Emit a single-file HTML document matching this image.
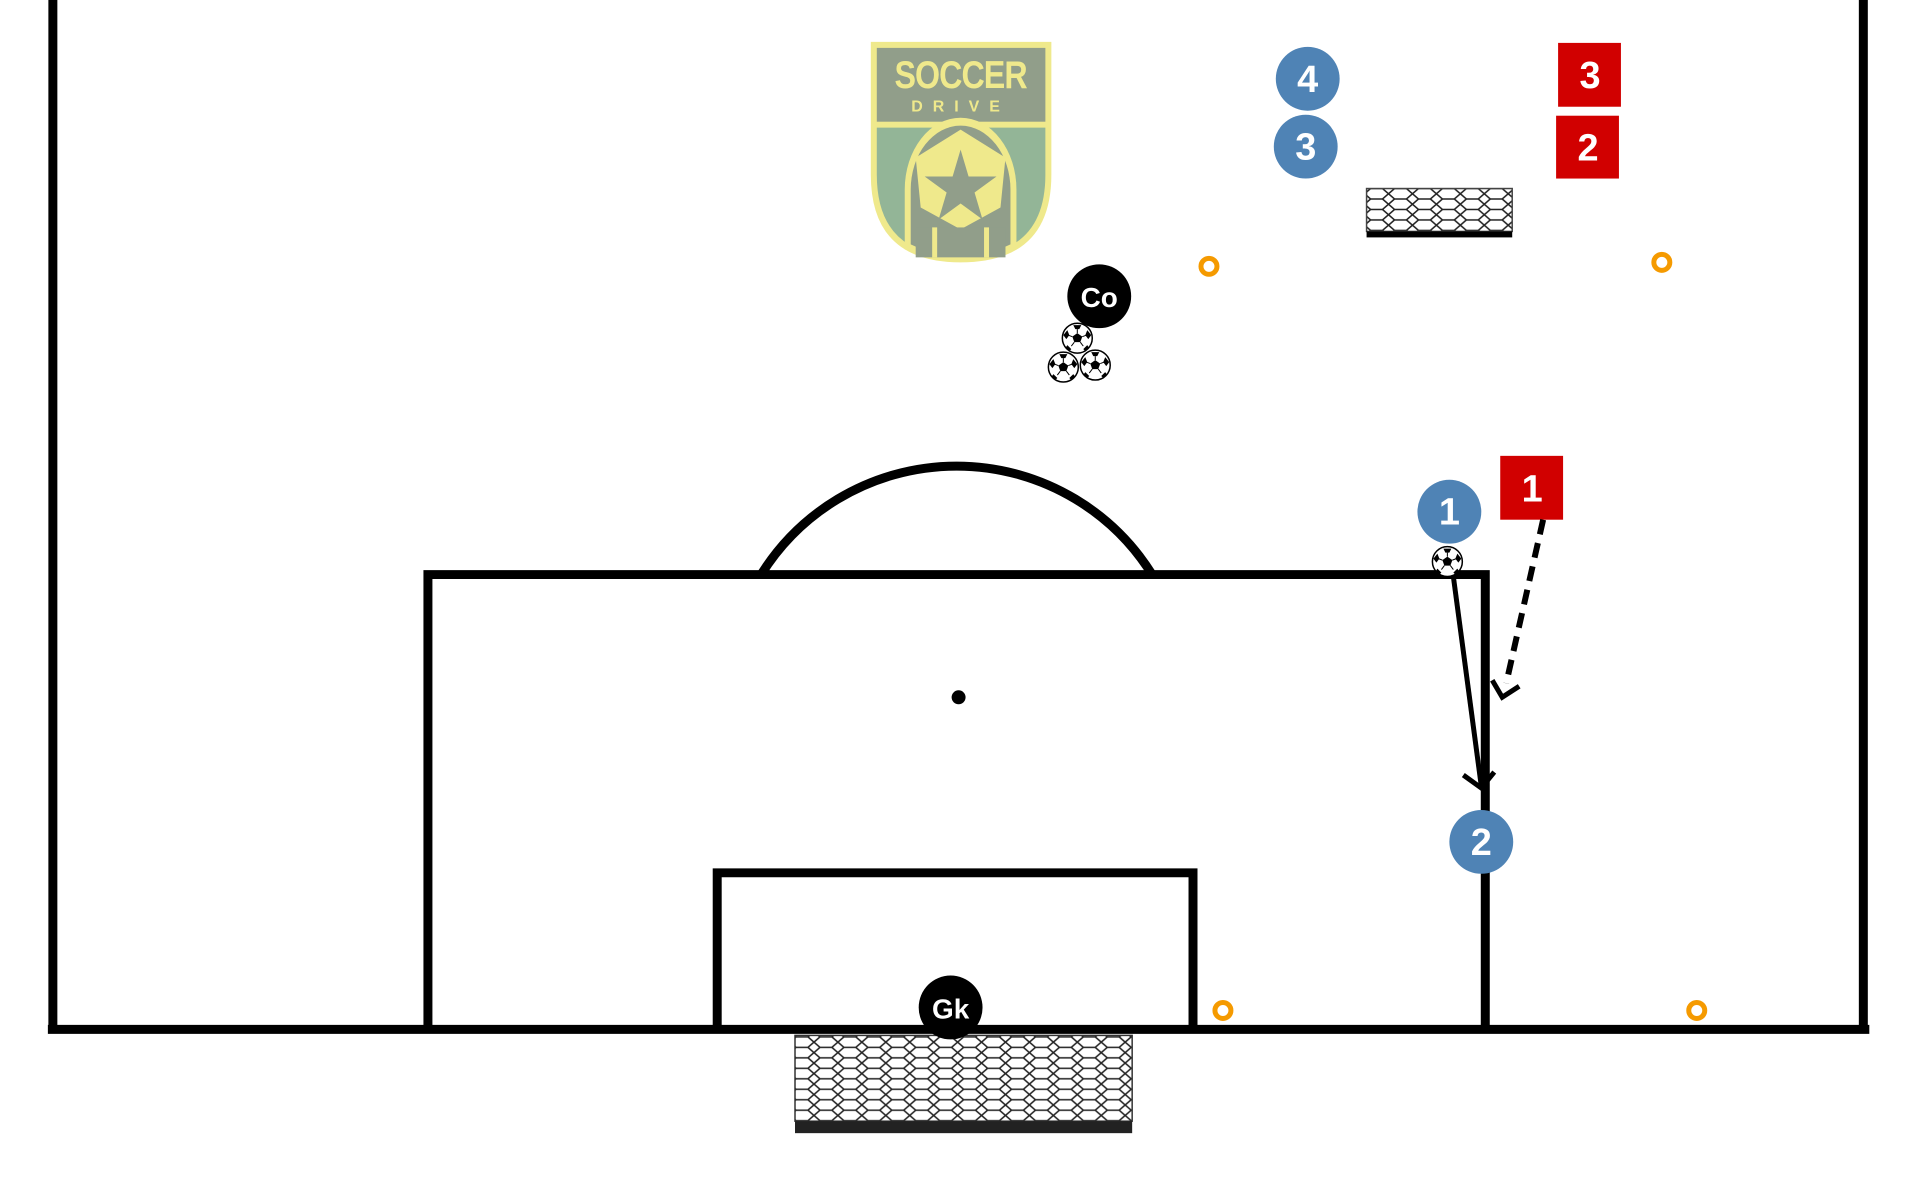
<!DOCTYPE html>
<html><head><meta charset="utf-8"><style>
html,body{margin:0;padding:0;background:#fff;}
svg{display:block;}
text{font-family:"Liberation Sans",sans-serif;font-weight:bold;}
</style></head><body>
<svg width="1920" height="1200" viewBox="0 0 1920 1200" xmlns="http://www.w3.org/2000/svg">
<defs>
<pattern id="hex" width="24" height="21" patternUnits="userSpaceOnUse">
<rect width="24" height="21" fill="#fff"/>
<path d="M0 5.25 L6 0 M6 0 L18 0 M18 0 L24 5.25 M0 5.25 L6 10.5 L18 10.5 L24 5.25 M6 10.5 L0 15.75 L6 21 M18 10.5 L24 15.75 L18 21 M6 21 L18 21" stroke="#222" stroke-width="1.5" fill="none"/>
</pattern>
<g id="ball">
<circle r="15" fill="#fff" stroke="#000" stroke-width="1.5"/>
<polygon points="0,-5 5,-1.5 3,4 -3,4 -5,-1.5" fill="#000"/>
<path d="M-4,-13 L4,-13 L2,-9 L-2,-9Z M10,-8 L14,-3 L11,1 L8,-3Z M-10,-8 L-14,-3 L-11,1 L-8,-3Z M6,11 L10,7 L12,10 L8,13Z M-6,11 L-10,7 L-12,10 L-8,13Z" fill="#000"/>
<path d="M0,-5 L0,-9 M5,-1.5 L9,-3 M-5,-1.5 L-9,-3 M3,4 L6,8 M-3,4 L-6,8" stroke="#000" stroke-width="1"/>
</g>
<g id="cone"><circle r="8" fill="none" stroke="#f59a00" stroke-width="5"/></g>
</defs>
<g transform="scale(0.9975)">
<!-- pitch -->
<g stroke="#000" stroke-width="9" fill="none">
<line x1="53" y1="0" x2="53" y2="1032"/>
<line x1="1868" y1="0" x2="1868" y2="1032"/>
<line x1="48" y1="1032" x2="1874" y2="1032"/>
<path d="M429 1032 L429 576 L1489 576 L1489 1032"/>
<path d="M719 1032 L719 875 L1196 875 L1196 1032"/>
<path d="M763 576 A231 231 0 0 1 1155 576"/>
</g>
<circle cx="961" cy="699" r="7" fill="#000"/>

<!-- bottom goal -->
<rect x="797" y="1038" width="338" height="86" fill="url(#hex)" stroke="#333" stroke-width="1.5"/>
<rect x="797" y="1124" width="338" height="12" fill="#222"/>

<!-- small goal -->
<rect x="1370" y="189" width="146" height="43" fill="url(#hex)" stroke="#444" stroke-width="1.5"/>
<rect x="1370" y="232" width="146" height="6" fill="#000"/>

<!-- logo -->
<g>
<path d="M873 42 L1054 42 L1054 175 Q1054 263 963 263 Q873 263 873 175 Z" fill="#efe98c"/>
<rect x="879" y="48" width="169" height="74" fill="#919e8a"/>
<path d="M879 128 L1048 128 L1048 175 Q1048 257 963 257 Q879 257 879 175 Z" fill="#93b597"/>
<path d="M907 250 L907 190 A56 72 0 0 1 1019 190 L1019 250 Q990 262 963 262 Q936 262 907 250Z" fill="#efe98c"/>
<path d="M913 245 L913 190 A50 64 0 0 1 1013 190 L1013 245 Q990 256 963 256 Q936 256 913 245Z" fill="#919e8a"/>
<polygon points="963,130 1008,158 1003,208 963,230 923,208 918,158" fill="#efe98c"/>
<polygon points="963,150 971,177 999,177 977,193 985,220 963,204 941,220 949,193 927,177 955,177" fill="#919e8a"/>
<rect x="918" y="228" width="90" height="30" fill="#919e8a"/>
<path d="M937 228 L937 258 M989 228 L989 258" stroke="#efe98c" stroke-width="5"/>
<text x="963" y="88" font-size="34" fill="#efe98c" text-anchor="middle" transform="translate(963 88) scale(0.95 1.15) translate(-963 -88)" style="letter-spacing:-1px">SOCCER</text>
<text x="963" y="112" font-size="16" fill="#efe98c" text-anchor="middle" style="letter-spacing:10px">DRIVE</text>
</g>

<!-- cones -->
<use href="#cone" x="1212" y="267"/>
<use href="#cone" x="1666" y="263"/>
<use href="#cone" x="1226" y="1013"/>
<use href="#cone" x="1701" y="1013"/>

<!-- coach & balls -->
<circle cx="1102" cy="297" r="32" fill="#000"/>
<text x="1102" y="308" font-size="28" fill="#fff" text-anchor="middle">Co</text>
<use href="#ball" x="1080" y="339"/>
<use href="#ball" x="1066" y="368"/>
<use href="#ball" x="1098" y="366"/>

<!-- GK -->
<circle cx="953" cy="1010" r="32" fill="#000"/>
<text x="953" y="1021" font-size="28" fill="#fff" text-anchor="middle">Gk</text>

<!-- blue players -->
<g fill="#4f83b5">
<circle cx="1311" cy="79" r="32"/>
<circle cx="1309" cy="147" r="32"/>
<circle cx="1453" cy="513" r="32"/>
<circle cx="1485" cy="844" r="32"/>
</g>
<g fill="#fff" font-size="38" text-anchor="middle">
<text x="1311" y="92">4</text>
<text x="1309" y="160">3</text>
<text x="1453" y="526">1</text>
<text x="1485" y="857">2</text>
</g>

<!-- red -->
<g fill="#d10000">
<rect x="1562" y="43" width="63" height="64"/>
<rect x="1560" y="116" width="63" height="63"/>
<rect x="1504" y="457" width="63" height="64"/>
</g>
<g fill="#fff" font-size="38" text-anchor="middle">
<text x="1594" y="88">3</text>
<text x="1592" y="161">2</text>
<text x="1536" y="503">1</text>
</g>

<use href="#ball" x="1451" y="563"/>

<!-- arrows -->
<g stroke="#000" stroke-width="5" fill="none">
<line x1="1457" y1="578" x2="1485" y2="788"/>
<path d="M1467 777 L1485 790 L1498 774"/>
<line x1="1547" y1="521" x2="1510" y2="685" stroke-dasharray="15 9" stroke-width="6"/>
<path d="M1496 682 L1506 699 L1523 688"/>
</g>
</g>
</svg>
</body></html>
